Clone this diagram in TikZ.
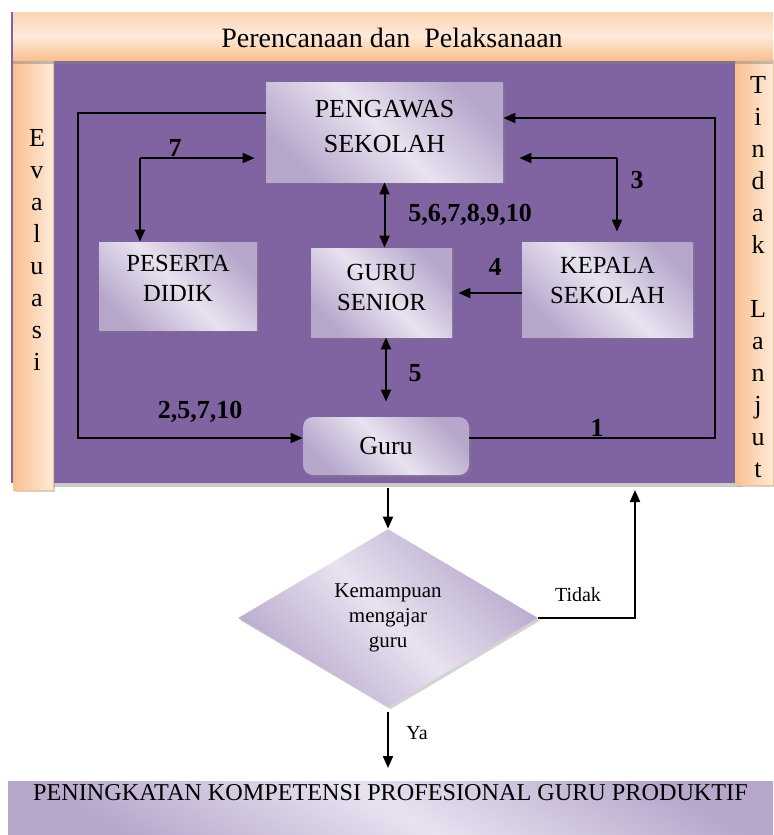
\documentclass[tikz,border=0pt]{standalone}
\usepackage{fontspec}
\setmainfont{Liberation Serif}
\usetikzlibrary{arrows.meta,shapes.geometric,shadows,calc}
\definecolor{purp}{HTML}{8064A2}
\definecolor{lav}{HTML}{E8E2F0}
\definecolor{lavd}{HTML}{B7A7CB}
\definecolor{peachd}{HTML}{FAC08F}
\definecolor{peachl}{HTML}{FDEADA}
\definecolor{peachm}{HTML}{FBD4B4}
\begin{document}
\begin{tikzpicture}[x=0.5pt,y=-0.5pt,
  shad/.style={drop shadow={shadow xshift=1.2pt,shadow yshift=-1.2pt,opacity=0.35}},
  box/.style={rectangle, inner sep=0pt, align=center, top color=lavd, bottom color=lavd, middle color=lav, shading angle=-45, shad},
  boxfont/.style={font=\fontsize{12.3}{15}\selectfont},
  conn/.style={line width=1pt, -{Triangle[length=6pt,width=5pt]}},
  dconn/.style={line width=1pt, {Triangle[length=6pt,width=5pt]}-{Triangle[length=6pt,width=5pt]}},
  lbl/.style={font=\bfseries\fontsize{13}{15}\selectfont, inner sep=0pt},
  small/.style={font=\fontsize{10}{12.5}\selectfont, inner sep=0pt, align=center},
  vert/.style={font=\fontsize{13}{16}\selectfont, align=center, inner sep=0pt}
]
\useasboundingbox (0,0) rectangle (773,835);
% panel and bars
\fill[purp, drop shadow={shadow xshift=1pt,shadow yshift=-2pt,opacity=0.4}] (11,12) rectangle (740,483);
\path[left color=peachd, right color=peachl, draw=peachd, line width=0.4pt, shad] (13,60) rectangle (53,490);
\path[left color=peachd, right color=peachl, draw=peachd, line width=0.4pt, shad] (735,60) rectangle (773,485);
\path[top color=peachm, bottom color=peachd, middle color=peachl, drop shadow={shadow xshift=0pt,shadow yshift=-2pt,opacity=0.45}] (13,12) rectangle (773,60);
\node[font=\fontsize{14}{16}\selectfont, inner sep=0pt] (title) at (392,38) {Perencanaan dan\ \ Pelaksanaan};
\node[vert] (ev) at (37,250) {E\\v\\a\\l\\u\\a\\s\\i};
\node[vert] (tl) at (758,277) {T\\i\\n\\d\\a\\k\\\mbox{}\\L\\a\\n\\j\\u\\t};
% boxes
\node[box, minimum width=118.5pt, minimum height=50pt, font=\fontsize{13}{17.5}\selectfont] (peng) at (384.5,132) {PENGAWAS\\SEKOLAH\\[-11.5pt]};
\node[box, boxfont, minimum width=70.5pt, minimum height=44.5pt] (sen) at (381.5,292.5) {GURU\\SENIOR\\[-9.5pt]};
\node[box, boxfont, minimum width=79pt, minimum height=44pt] (pes) at (178,286) {PESERTA\\DIDIK\\[-7pt]};
\node[box, boxfont, minimum width=85.5pt, minimum height=47.5pt] (kep) at (607.5,289.5) {KEPALA\\SEKOLAH\\[-6pt]};
\node[box, rounded corners=5pt, font=\fontsize{13}{15}\selectfont, minimum width=83pt, minimum height=29pt] (guru) at (386,446) {Guru};
\node[diamond, aspect=1.7, inner sep=0pt, minimum width=150pt, minimum height=89pt, top color=lavd, bottom color=lavd, middle color=lav, shading angle=-45, shad, font=\fontsize{10.5}{12.5}\selectfont, align=center] (dia) at (388,618) {Kemampuan\\mengajar\\guru};
\node[rectangle, anchor=north, inner xsep=0pt, inner ysep=0pt, minimum width=382.5pt, text height=9.75pt, text depth=17.25pt, top color=lavd, bottom color=lavd, middle color=lav, shading angle=-30, font=\fontsize{12.1}{14}\selectfont] (bot) at (390.5,781) {PENINGKATAN KOMPETENSI PROFESIONAL GURU PRODUKTIF};
% connectors
\coordinate (a1) at (78,113);
\coordinate (a2) at (78,438);
\draw[conn] (peng.west |- a1) -- (a1) -- (a2) -- (guru.west |- a2);
\coordinate (j7) at (140,158);
\draw[conn] (j7) -- ($(peng.west |- j7)+(-11,0)$);
\draw[conn] (j7) -- (pes.north -| j7);
\coordinate (b1) at (715,438);
\coordinate (b2) at (715,118);
\draw[conn] (guru.east |- b1) -- (b1) -- (b2) -- (peng.east |- b2);
\coordinate (j3) at (617,158);
\draw[conn] (j3) -- ($(peng.east |- j3)+(16,0)$);
\draw[conn] (j3) -- ($(kep.north -| j3)+(0,-10)$);
\draw[dconn] (peng.south) -- (peng.south |- sen.north);
\coordinate (y4) at (0,293);
\draw[conn] (kep.west |- y4) -- ($(sen.east |- y4)+(6,0)$);
\draw[dconn] (sen.south -| guru.north) -- ($(guru.north)+(0,-15)$);
\draw[conn] ($(guru.south)+(2,13)$) -- (dia.north);
\coordinate (t2) at (635,490);
\draw[conn] (dia.east) -- (dia.east -| t2) -- (t2);
\draw[conn] ($(dia.south)+(0,5)$) -- ($(dia.south |- bot.north)+(0,-13)$);
% labels
\node[lbl] (l7) at (175,148) {7};
\node[lbl] (l2) at (200,412) {2,5,7,10};
\node[lbl] (l1) at (597,428) {1};
\node[lbl] (l3) at (637,180) {3};
\node[lbl] (l5a) at (470,215) {5,6,7,8,9,10};
\node[lbl] (l4) at (495,267) {4};
\node[lbl] (l5b) at (415,373) {5};
\node[small] (tidak) at (578,595) {Tidak};
\node[small] (ya) at (417,733) {Ya};
\end{tikzpicture}
\end{document}
